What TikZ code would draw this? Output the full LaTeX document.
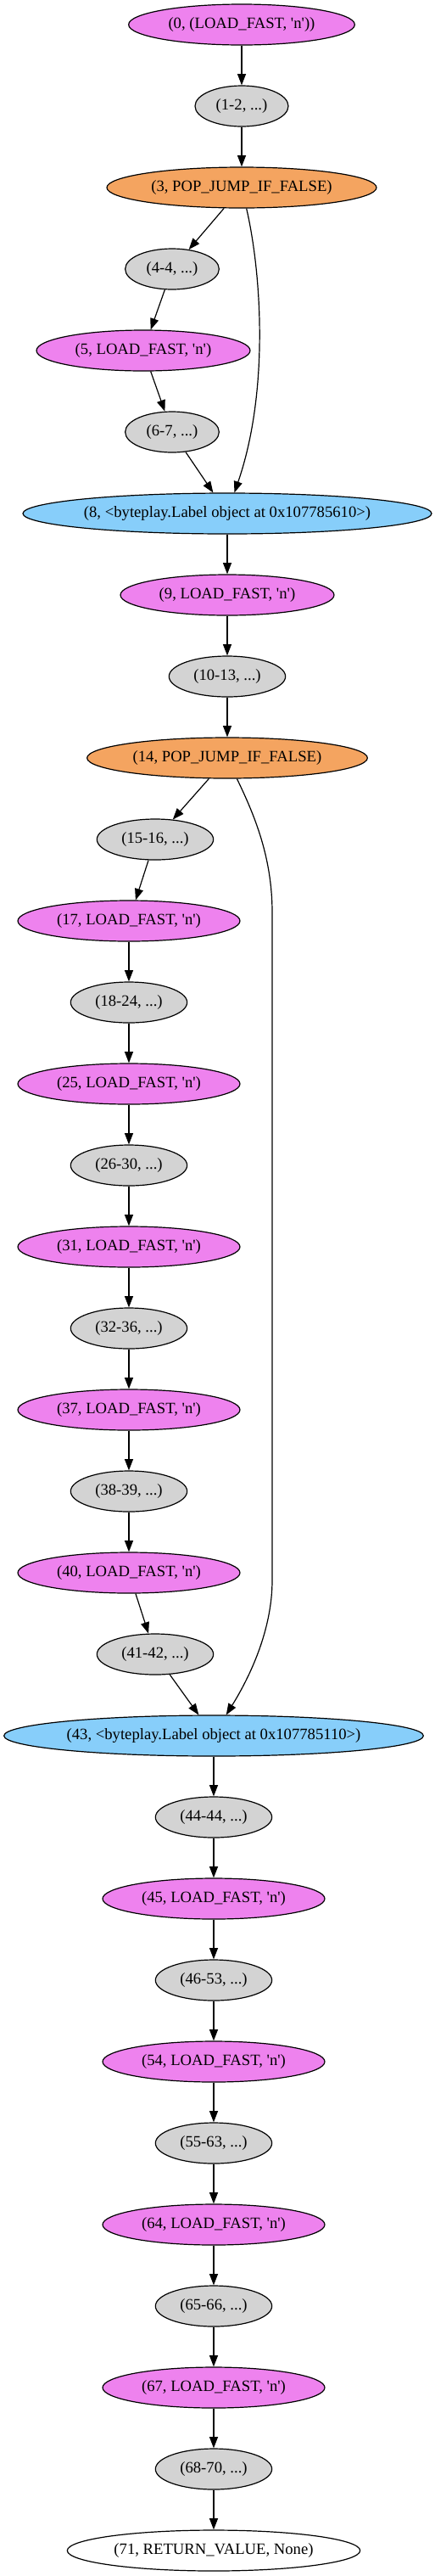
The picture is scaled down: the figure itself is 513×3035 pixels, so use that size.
\documentclass[tikz,border=0pt]{standalone}
\usepackage{fontspec}
\setmainfont{Liberation Serif}
\usetikzlibrary{shapes.geometric,arrows.meta}

\definecolor{loadcol}{RGB}{238,130,238}
\definecolor{blockcol}{RGB}{211,211,211}
\definecolor{jumpcol}{RGB}{244,164,96}
\definecolor{labelcol}{RGB}{135,206,250}
\newcommand{\apos}{\textquotesingle}

\begin{document}
\begin{tikzpicture}
[x=0.75pt, y=-0.75pt,
% STYLES
every node/.style={ellipse, draw, line width=0.9pt, inner sep=0pt, minimum height=36pt, font=\fontsize{14pt}{16pt}\selectfont},
% one style for each kind of instruction
load/.style={fill=loadcol, minimum width=196.5pt},
block/.style={fill=blockcol, minimum width=103pt},
jump/.style={fill=jumpcol},
target/.style={fill=labelcol},
ret/.style={fill=white, minimum width=259pt},
flow/.style={line width=0.9pt, -{Triangle[length=10pt,width=7.5pt]}}]

\useasboundingbox (0,0) rectangle (513,3035);

% Draw instructions
\node [load, minimum width=200pt] (i0) at (285,29) {(0, (LOAD\_FAST, \apos n\apos))};
\node [block, minimum width=82.5pt] (b1) at (285,125) {(1-2, ...)};
\node [jump, minimum width=238.5pt] (j3) at (285,221) {(3, POP\_JUMP\_IF\_FALSE)};
\node [block, minimum width=83pt] (b4) at (203,317) {(4-4, ...)};
\node [load, minimum width=189pt] (i5) at (169,413) {(5, LOAD\_FAST, \apos n\apos)};
\node [block, minimum width=83pt] (b6) at (203,509) {(6-7, ...)};
\node [target, minimum width=361.5pt] (t8) at (268,605) {(8, <byteplay.Label object at 0x107785610>)};
\node [load, minimum width=189pt] (i9) at (268,701) {(9, LOAD\_FAST, \apos n\apos)};
\node [block] (b10) at (268,797) {(10-13, ...)};
\node [jump, minimum width=248pt] (j14) at (268,893) {(14, POP\_JUMP\_IF\_FALSE)};
\node [block] (b15) at (183,989) {(15-16, ...)};
\node [load] (i17) at (152,1085) {(17, LOAD\_FAST, \apos n\apos)};
\node [block] (b18) at (152,1181) {(18-24, ...)};
\node [load] (i25) at (152,1277) {(25, LOAD\_FAST, \apos n\apos)};
\node [block] (b26) at (152,1373) {(26-30, ...)};
\node [load] (i31) at (152,1469) {(31, LOAD\_FAST, \apos n\apos)};
\node [block] (b32) at (152,1565) {(32-36, ...)};
\node [load] (i37) at (152,1661) {(37, LOAD\_FAST, \apos n\apos)};
\node [block] (b38) at (152,1757) {(38-39, ...)};
\node [load] (i40) at (152,1853) {(40, LOAD\_FAST, \apos n\apos)};
\node [block] (b41) at (183,1949) {(41-42, ...)};
\node [target, minimum width=371pt] (t43) at (252,2045) {(43, <byteplay.Label object at 0x107785110>)};
\node [block] (b44) at (252,2141) {(44-44, ...)};
\node [load] (i45) at (252,2237) {(45, LOAD\_FAST, \apos n\apos)};
\node [block] (b46) at (252,2333) {(46-53, ...)};
\node [load] (i54) at (252,2429) {(54, LOAD\_FAST, \apos n\apos)};
\node [block] (b55) at (252,2525) {(55-63, ...)};
\node [load] (i64) at (252,2621) {(64, LOAD\_FAST, \apos n\apos)};
\node [block] (b65) at (252,2717) {(65-66, ...)};
\node [load] (i67) at (252,2813) {(67, LOAD\_FAST, \apos n\apos)};
\node [block] (b68) at (252,2909) {(68-70, ...)};
\node [ret] (r71) at (252,3005) {(71, RETURN\_VALUE, None)};

% Draw control flow
\draw [flow] (i0) -- (b1);
\draw [flow] (b1) -- (j3);
\draw [flow] (j3) -- (b4);
\draw [flow] (j3.-77) .. controls (308,320) and (318,460) .. (t8.71);
\draw [flow] (b4) -- (i5);
\draw [flow] (i5) -- (b6);
\draw [flow] (b6) -- (t8);
\draw [flow] (t8) -- (i9);
\draw [flow] (i9) -- (b10);
\draw [flow] (b10) -- (j14);
\draw [flow] (j14) -- (b15);
\draw [flow] (j14.-65) .. controls (300,960) and (321,1010) .. (321,1075)
  -- (321,1862) .. controls (321,1920) and (295,1975) .. (t43.59);
\draw [flow] (b15) -- (i17);
\draw [flow] (i17) -- (b18);
\draw [flow] (b18) -- (i25);
\draw [flow] (i25) -- (b26);
\draw [flow] (b26) -- (i31);
\draw [flow] (i31) -- (b32);
\draw [flow] (b32) -- (i37);
\draw [flow] (i37) -- (b38);
\draw [flow] (b38) -- (i40);
\draw [flow] (i40) -- (b41);
\draw [flow] (b41) -- (t43);
\draw [flow] (t43) -- (b44);
\draw [flow] (b44) -- (i45);
\draw [flow] (i45) -- (b46);
\draw [flow] (b46) -- (i54);
\draw [flow] (i54) -- (b55);
\draw [flow] (b55) -- (i64);
\draw [flow] (i64) -- (b65);
\draw [flow] (b65) -- (i67);
\draw [flow] (i67) -- (b68);
\draw [flow] (b68) -- (r71);

\end{tikzpicture}
\end{document}
